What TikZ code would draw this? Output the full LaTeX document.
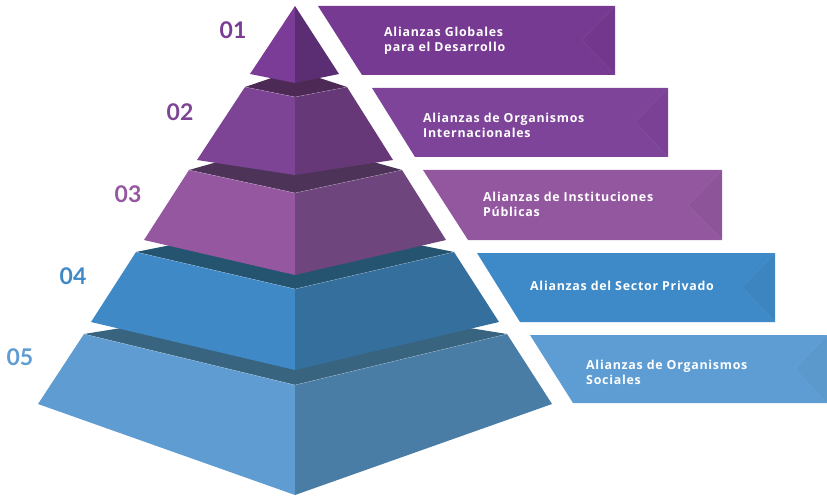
\documentclass[tikz,border=0pt]{standalone}
\usepackage{fontspec}
\setmainfont{Open Sans}
\newfontfamily\banfont[LetterSpace=6]{Open Sans}
\newfontfamily\numfont{Lato}
\definecolor{pA}{HTML}{7A3C96}
\definecolor{pAd}{HTML}{5B2E73}
\definecolor{pBt}{HTML}{4C2A55}
\definecolor{pB}{HTML}{7D4496}
\definecolor{pBd}{HTML}{663878}
\definecolor{pCt}{HTML}{4D3358}
\definecolor{pC}{HTML}{9457A0}
\definecolor{pCd}{HTML}{6F457E}
\definecolor{bDt}{HTML}{255470}
\definecolor{bD}{HTML}{3F89C7}
\definecolor{bDd}{HTML}{356F9E}
\definecolor{bEt}{HTML}{39647F}
\definecolor{bE}{HTML}{5E9CD2}
\definecolor{bEd}{HTML}{4A7DA6}
\definecolor{ban1}{HTML}{773A92}
\definecolor{ban2}{HTML}{7E4499}
\definecolor{ban3}{HTML}{9357A0}
\definecolor{ban4}{HTML}{3E8AC8}
\definecolor{ban5}{HTML}{5E9DD3}
\tikzset{
  bantext/.style={text=white, font=\banfont\bfseries\fontsize{12.4}{15}\selectfont, align=left, anchor=west, inner sep=0pt},
  numtext/.style={font=\numfont\bfseries\fontsize{23}{23}\selectfont, anchor=center, inner sep=0pt},
  notch/.style={fill=black, fill opacity=0.03, draw=white, draw opacity=0.08, line width=0.5pt}
}
\begin{document}
\begin{tikzpicture}[x=1pt,y=-1pt]
\useasboundingbox (0,0) rectangle (827,497);
% tier 5
\fill[bEt] (84,334) -- (295,300) -- (507,334) -- (295,385) -- cycle;
\fill[bE] (84,334) -- (295,385) -- (295,495) -- (38,404) -- cycle;
\fill[bEd] (295,385) -- (507,334) -- (552,404) -- (295,495) -- cycle;
% tier 4
\fill[bDt] (136,252) -- (295,220) -- (454,252) -- (295,289) -- cycle;
\fill[bD] (136,252) -- (295,289) -- (295,370) -- (91,322) -- cycle;
\fill[bDd] (295,289) -- (454,252) -- (499,322) -- (295,370) -- cycle;
% tier 3
\fill[pCt] (189,170) -- (295,140) -- (402,170) -- (295,193) -- cycle;
\fill[pC] (189,170) -- (295,193) -- (295,275) -- (144,240) -- cycle;
\fill[pCd] (295,193) -- (402,170) -- (446,240) -- (295,275) -- cycle;
% tier 2
\fill[pBt] (245,87) -- (295,70) -- (347,87) -- (295,97) -- cycle;
\fill[pB] (245,87) -- (295,97) -- (295,175) -- (197,160) -- cycle;
\fill[pBd] (295,97) -- (347,87) -- (393,160) -- (295,175) -- cycle;
% tier 1
\fill[pA] (295,6) -- (295,83) -- (250,74) -- cycle;
\fill[pAd] (295,6) -- (339,74) -- (295,83) -- cycle;
% highlight edges
\draw[white, opacity=0.25, line width=0.5pt] (84,334) -- (295,385) -- (507,334);
\draw[white, opacity=0.25, line width=0.5pt] (136,252) -- (295,289) -- (454,252);
\draw[white, opacity=0.25, line width=0.5pt] (189,170) -- (295,193) -- (402,170);
\draw[white, opacity=0.25, line width=0.5pt] (245,87) -- (295,97) -- (347,87);
% banners
\fill[ban1] (318,6) -- (615,6) -- (615,75) -- (362,75) -- cycle;
\fill[notch] (615,6) -- (582,40) -- (615,75) -- cycle;
\fill[ban2] (372,88) -- (668,88) -- (668,157) -- (415,157) -- cycle;
\fill[notch] (668,88) -- (635,122) -- (668,157) -- cycle;
\fill[ban3] (423,170) -- (722,170) -- (722,240) -- (468,240) -- cycle;
\fill[notch] (722,170) -- (688,205) -- (722,240) -- cycle;
\fill[ban4] (477,253) -- (775,253) -- (775,322) -- (520,322) -- cycle;
\fill[notch] (775,253) -- (742,287) -- (775,322) -- cycle;
\fill[ban5] (530,335) -- (827,335) -- (827,403) -- (573,403) -- cycle;
\fill[notch] (827,335) -- (795,369) -- (827,403) -- cycle;
% banner texts
\node[bantext] (t1) at (384,41) {Alianzas Globales\\para el Desarrollo};
\node[bantext] (t2) at (423,125) {Alianzas de Organismos\\Internacionales};
\node[bantext] (t3) at (483,204) {Alianzas de Instituciones\\Públicas};
\node[bantext] (t4) at (530,286) {Alianzas del Sector Privado};
\node[bantext] (t5) at (586,372) {Alianzas de Organismos\\Sociales};
% numbers
\node[numtext, text=pA] (n1) at (233,30) {01};
\node[numtext, text=pB] (n2) at (180,112) {02};
\node[numtext, text=pC] (n3) at (128,194) {03};
\node[numtext, text=bD] (n4) at (73,276) {04};
\node[numtext, text=bE] (n5) at (20,357) {05};
\end{tikzpicture}
\end{document}
